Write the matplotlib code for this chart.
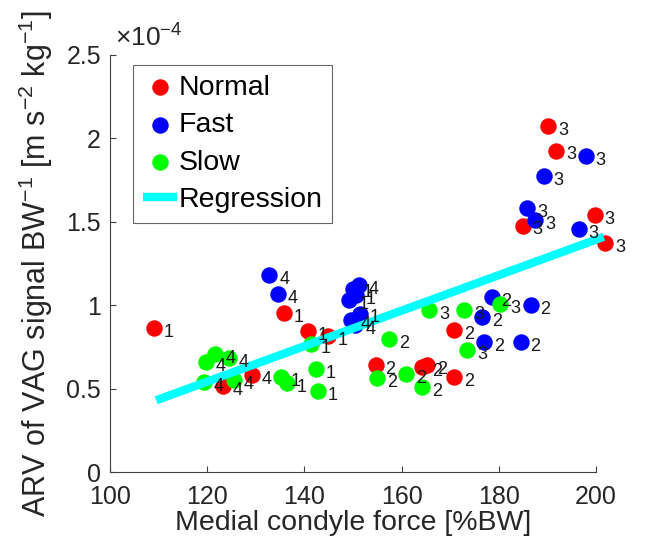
import matplotlib
matplotlib.use("Agg")
import matplotlib.pyplot as plt
import numpy as np
from matplotlib.ticker import FuncFormatter

plt.rcParams['font.family'] = ['Liberation Sans', 'DejaVu Sans']
plt.rcParams['mathtext.fontset'] = 'custom'
plt.rcParams['mathtext.rm'] = 'Liberation Sans'
plt.rcParams['mathtext.it'] = 'Liberation Sans:italic'

# values, y in units of 1e-4
normal_x = [109.0, 135.7, 140.7, 144.8, 123.3, 129.3, 154.7, 164.3, 165.3, 170.8,
            170.8, 184.9, 190.2, 191.8, 199.7, 201.9]
normal_y = [0.864, 0.951, 0.845, 0.816, 0.514, 0.580, 0.640, 0.630, 0.640, 0.570,
            0.851, 1.477, 2.075, 1.927, 1.541, 1.371]
normal_id = [1, 1, 1, 1, 4, 4, 2, 2, 2, 2, 2, 3, 3, 3, 3, 3]

fast_x = [132.8, 134.5, 150.0, 151.3, 149.2, 150.6, 149.6, 151.4, 150.5, 176.6,
          178.5, 177.0, 186.6, 184.5, 185.9, 187.5, 189.3, 196.5, 197.9]
fast_y = [1.181, 1.066, 1.100, 1.120, 1.030, 1.060, 0.910, 0.950, 0.880, 0.927,
          1.050, 0.780, 1.000, 0.780, 1.580, 1.510, 1.775, 1.457, 1.895]
fast_id = [4, 4, 1, 4, 1, 1, 4, 1, 4, 2, 2, 2, 2, 2, 3, 3, 3, 3, 3]

slow_x = [119.8, 121.7, 124.4, 119.3, 125.5, 135.1, 136.4, 141.4, 142.4, 142.8,
          157.5, 155.0, 160.9, 164.3, 165.7, 172.9, 173.5, 180.3]
slow_y = [0.660, 0.707, 0.683, 0.540, 0.550, 0.570, 0.531, 0.765, 0.615, 0.485,
          0.795, 0.561, 0.587, 0.510, 0.971, 0.971, 0.730, 1.007]
slow_id = [4, 4, 4, 4, 4, 1, 1, 1, 1, 1, 2, 2, 2, 2, 3, 3, 3, 3]

reg_x = [109.5, 201.6]
reg_y = [0.43, 1.41]

groups = [
    ("Normal", normal_x, normal_y, normal_id, (1, 0, 0)),
    ("Fast", fast_x, fast_y, fast_id, (0, 0, 1)),
    ("Slow", slow_x, slow_y, slow_id, (0, 1, 0)),
]

fig = plt.figure(figsize=(6.7, 5.59), dpi=100)
ax = fig.add_axes([110 / 670, 1 - 472 / 559, 486 / 670, 417 / 559])

for name, xs, ys, ids, col in groups:
    ax.scatter(xs, ys, s=140, color=col, linewidths=0, label=name, clip_on=False, zorder=2)
    for xi, yi, n in zip(xs, ys, ids):
        ax.annotate(str(n), (xi, yi), xytext=(7, -3), textcoords='offset points',
                    fontsize=13, va='center', ha='left', color='#1a1a1a',
                    annotation_clip=False, zorder=4)

ax.plot(reg_x, reg_y, color=(0, 1, 1), lw=6, solid_capstyle='butt',
        label="Regression", clip_on=False, zorder=3)

ax.set_xlim(100, 200)
ax.set_ylim(0, 2.5)
ax.set_xticks([100, 120, 140, 160, 180, 200])
ax.set_yticks([0, 0.5, 1, 1.5, 2, 2.5])
ax.yaxis.set_major_formatter(FuncFormatter(lambda v, p: f"{v:g}"))

for s in ['top', 'right']:
    ax.spines[s].set_visible(False)
for s in ['left', 'bottom']:
    ax.spines[s].set_color('#404040')
    ax.spines[s].set_linewidth(0.8)
ax.tick_params(direction='in', length=4, width=0.8, colors='#404040',
               labelsize=18, labelcolor='#262626')
ax.tick_params(axis='x', pad=9)
ax.tick_params(axis='y', pad=6.5)

ax.set_xlabel("Medial condyle force [%BW]", fontsize=20.5, color='#262626', labelpad=1)
ax.set_ylabel(r"ARV of VAG signal BW$^{-1}$ [m s$^{-2}$ kg$^{-1}$]",
              fontsize=22, color='#262626')
ax.yaxis.set_label_coords(-0.113, 0.5)

ax.text(0.01, 1.019, r"$\times$10$^{-4}$", transform=ax.transAxes, fontsize=19,
        ha='left', va='baseline', color='#262626')

leg = ax.legend(loc='upper left', bbox_to_anchor=(0.047, 0.976), fontsize=20.5,
                frameon=True, fancybox=False, borderpad=0.35, labelspacing=0.4,
                handlelength=1.2, handletextpad=0.05, borderaxespad=0,
                markerscale=1.0)
leg.get_frame().set_edgecolor('#404040')
leg.get_frame().set_linewidth(0.8)

fig.savefig("out.png", dpi=100)
